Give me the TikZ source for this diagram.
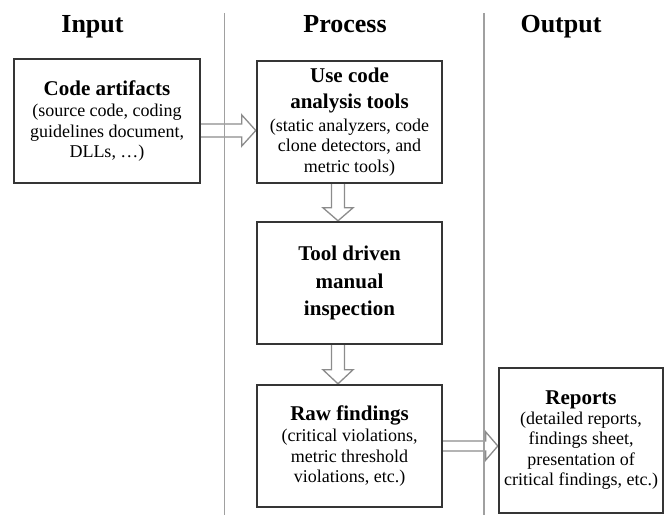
\documentclass[tikz,border=0pt]{standalone}
\usepackage{fontspec}
\setmainfont{Liberation Serif}
\usetikzlibrary{calc,backgrounds}
\definecolor{boxgray}{HTML}{353535}
\definecolor{arrgray}{HTML}{8C8C8C}
\definecolor{divgray}{HTML}{A0A0A0}
\tikzset{
  x=1pt, y=1pt,
  stage/.style={draw=boxgray, line width=2.4pt, fill=white, inner sep=0pt,
    align=center, font=\fontsize{18}{20.5}\selectfont},
  colhead/.style={font=\fontsize{26}{30}\selectfont\bfseries, anchor=base, inner sep=0pt},
  divider/.style={draw=divgray, line width=1.5pt},
  flow/.style={draw=arrgray, line width=1.3pt, fill=white, line join=miter},
}
\newcommand{\stagetitle}[1]{{\fontsize{21}{26}\selectfont\bfseries #1}}
\begin{document}
\begin{tikzpicture}
\useasboundingbox (0,0) rectangle (667,515);

% column separators
\coordinate (d1top) at (224.5,502);
\coordinate (d1bot) at (224.5,0);
\coordinate (d2top) at (484,502);
\coordinate (d2bot) at (484,0);
\draw[divider] (d1top) -- (d1bot);
\draw[divider] (d2top) -- (d2bot);

% column headings
\node[colhead] (hin)  at (92.5,482) {Input};
\node[colhead] (hpro) at (345,482)  {Process};
\node[colhead] (hout) at (561,482)  {Output};

% stages
\node[stage, minimum width=186, minimum height=124] (art) at (107,394)
  {\stagetitle{Code artifacts}\\[1pt](source code, coding\\guidelines document,\\DLLs, …)};
\node[stage, minimum width=185, minimum height=122] (tools) at (349.5,393)
  {\stagetitle{Use code}\\[6pt]\stagetitle{analysis tools}\\[2pt](static analyzers, code\\clone detectors, and\\metric tools)};
\node[stage, minimum width=185, minimum height=122] (insp) at (349.5,232)
  {\stagetitle{Tool driven}\\[7pt]\stagetitle{manual}\\[7pt]\stagetitle{inspection}};
\node[stage, minimum width=185, minimum height=122] (raw) at (349.5,69)
  {\stagetitle{Raw findings}\\[1pt](critical violations,\\metric threshold\\violations, etc.)};
\node[stage, minimum width=164, minimum height=145] (rep) at (581,74.5)
  {\stagetitle{Reports}\\[-1pt](detailed reports,\\findings sheet,\\presentation of\\critical findings, etc.)};

% hollow block arrows between stages
\begin{scope}[on background layer]
\draw[flow] let \p1=($(art.east)+(0,-9.5)$), \p2=(tools.west) in
  (\x1,\y1+6.5) -- (\x2-14,\y1+6.5) -- (\x2-14,\y1+15.5) -- (\x2,\y1)
  -- (\x2-14,\y1-15.5) -- (\x2-14,\y1-6.5) -- (\x1,\y1-6.5);
\draw[flow] let \p1=($(tools.south)+(-11.5,0)$), \p2=(insp.north) in
  (\x1-6.5,\y1) -- (\x1-6.5,\y2+13) -- (\x1-15,\y2+13) -- (\x1,\y2)
  -- (\x1+15,\y2+13) -- (\x1+6.5,\y2+13) -- (\x1+6.5,\y1);
\draw[flow] let \p1=($(insp.south)+(-11.5,0)$), \p2=(raw.north) in
  (\x1-6.5,\y1) -- (\x1-6.5,\y2+14) -- (\x1-15,\y2+14) -- (\x1,\y2)
  -- (\x1+15,\y2+14) -- (\x1+6.5,\y2+14) -- (\x1+6.5,\y1);
\draw[flow] let \p1=(raw.east), \p2=(rep.west) in
  (\x1,\y1+5) -- (\x2-12,\y1+5) -- (\x2-12,\y1+14) -- (\x2,\y1)
  -- (\x2-12,\y1-14) -- (\x2-12,\y1-5) -- (\x1,\y1-5);
\end{scope}
\end{tikzpicture}
\end{document}
